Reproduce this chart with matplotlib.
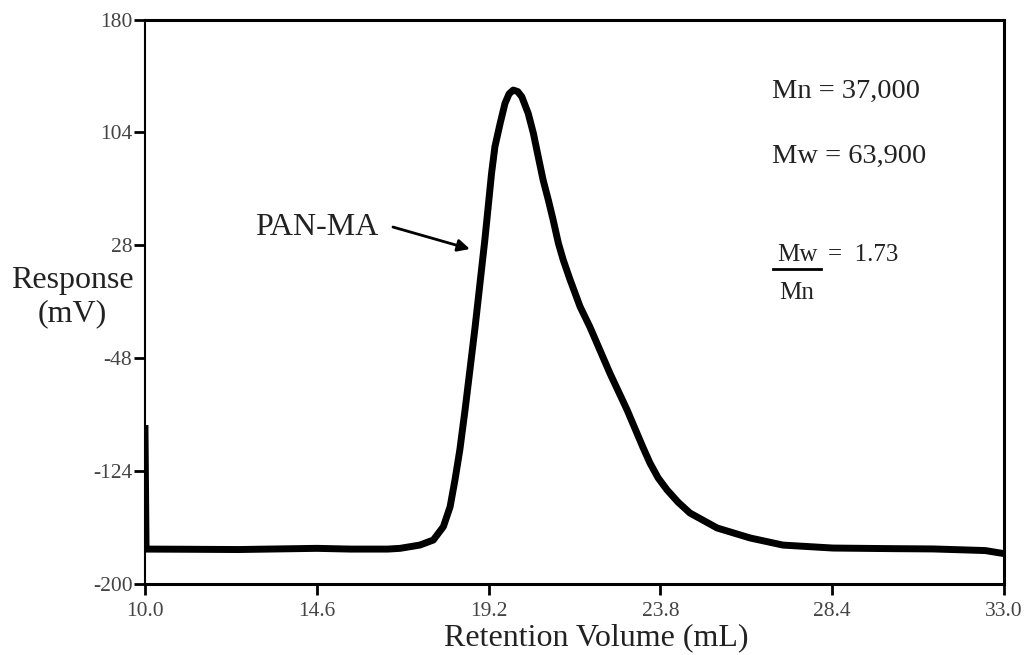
import matplotlib
matplotlib.use("Agg")
import matplotlib.pyplot as plt

plt.rcParams['font.family'] = ['Liberation Serif', 'DejaVu Serif']
plt.rcParams['axes.unicode_minus'] = False

# GPC trace
ret_vol = [10.00, 10.03, 11.0, 12.5, 14.6, 15.5, 16.5, 16.83, 17.36, 17.72, 17.99,
           18.17, 18.30, 18.43, 18.57, 18.70, 18.84, 18.97, 19.10, 19.19, 19.28,
           19.37, 19.51, 19.64, 19.75, 19.86, 19.98, 20.09, 20.26, 20.40, 20.53,
           20.66, 20.80, 20.93, 21.07, 21.20, 21.38, 21.65, 21.91, 22.18, 22.45,
           22.67, 22.91, 23.33, 23.52, 23.74, 23.98, 24.27, 24.59, 25.32, 26.20,
           27.08, 28.42, 30.0, 31.10, 32.01, 32.50, 32.89, 33.0]
response = [-93.0, -176.5, -176.6, -176.8, -176.0, -176.5, -176.5, -176.0, -173.8,
            -170.4, -161.4, -148.0, -130.0, -109.8, -82.9, -56.0, -26.8, 2.4, 31.6,
            54.0, 76.5, 94.4, 110.1, 123.6, 130.0, 132.5, 131.5, 128.0, 116.9, 103.4,
            87.6, 72.0, 58.5, 45.0, 29.3, 18.1, 5.0, -13.3, -26.8, -42.5, -58.2,
            -70.0, -82.9, -107.8, -118.5, -128.6, -136.7, -144.8, -152.2, -162.3,
            -169.0, -173.8, -175.8, -176.2, -176.4, -177.1, -177.5, -179.1, -179.5]

x_ticks = [10.0, 14.6, 19.2, 23.8, 28.4, 33.0]
y_ticks = [-200, -124, -48, 28, 104, 180]

sample_label = "PAN-MA"
mn_text = "Mn = 37,000"
mw_text = "Mw = 63,900"
pdi_text = "=  1.73"

fig = plt.figure(figsize=(10.31, 6.55), dpi=100)
ax = fig.add_axes([0.1406, 0.1084, 0.8332, 0.8618])

ax.plot(ret_vol, response, color="black", lw=5, solid_capstyle="butt", solid_joinstyle="round")

ax.set_xlim(10, 33)
ax.set_ylim(-200, 180)
ax.set_xticks(x_ticks)
ax.set_xticklabels(["%.1f" % v for v in x_ticks])
ax.set_yticks(y_ticks)
ax.tick_params(direction="out", length=8, width=2, labelsize=15.5, colors="black",
               labelcolor="#444444")
ax.tick_params(axis="y", pad=1)
ax.tick_params(axis="x", pad=5)
ax.spines["left"].set_linewidth(1.5)
for s in ["top", "bottom", "right"]:
    ax.spines[s].set_linewidth(2.2)

fig.text(596 / 1031, 1 - 638 / 655, "Retention Volume (mL)", fontsize=23,
         color="#222222", ha="center", va="center")
fig.text(72 / 1031, 1 - 297 / 655, "Response\n(mV)", fontsize=23, color="#222222",
         ha="center", va="center", linespacing=1.2)

ax.text(14.61, 40.3, sample_label, fontsize=23, color="#222222", ha="center", va="center")
ax.annotate("", xy=(18.70, 25.5), xytext=(16.64, 40.3),
            arrowprops=dict(arrowstyle="-|>", color="black", lw=2,
                            mutation_scale=18, shrinkA=0, shrinkB=0))

ax.text(0.730, 0.872, mn_text, transform=ax.transAxes, fontsize=20.5,
        color="#222222", ha="left", va="center")
ax.text(0.730, 0.757, mw_text, transform=ax.transAxes, fontsize=20.5,
        color="#222222", ha="left", va="center")
ax.text(0.759, 0.583, "Mw", transform=ax.transAxes, fontsize=18,
        color="#222222", ha="center", va="center")
ax.plot([0.731, 0.787], [0.5575, 0.5575], transform=ax.transAxes, color="black", lw=2)
ax.text(0.759, 0.515, "Mn", transform=ax.transAxes, fontsize=18,
        color="#222222", ha="center", va="center")
ax.text(0.795, 0.583, pdi_text, transform=ax.transAxes, fontsize=18,
        color="#222222", ha="left", va="center")

fig.savefig("out.png", dpi=100)
